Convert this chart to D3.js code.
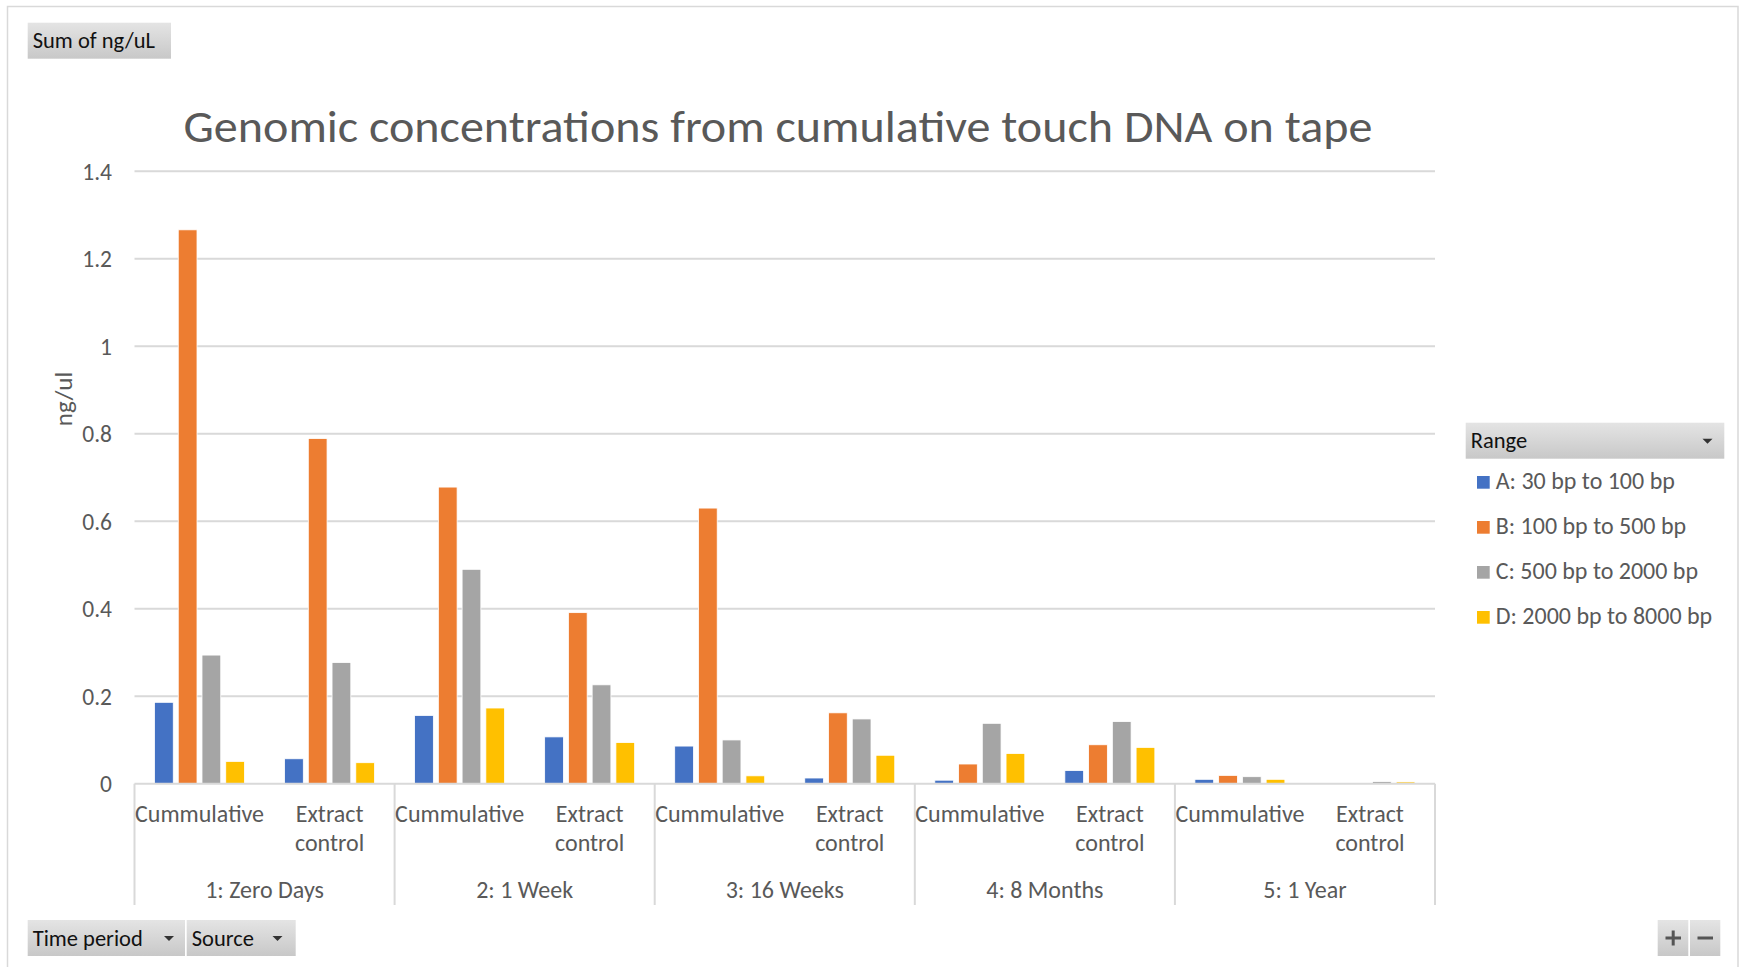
<!DOCTYPE html>
<html>
<head>
<meta charset="utf-8">
<script src="https://cdn.jsdelivr.net/npm/d3@7"></script>
<style>
  html, body { margin: 0; padding: 0; background: #fff; }
  svg { display: block; font-family: Carlito, Calibri, Lato, sans-serif; }
</style>
</head>
<body>
<svg id="chart" width="1743" height="967"></svg>
<script>
// ---------- data ----------
const periods = ["1: Zero Days", "2: 1 Week", "3: 16 Weeks", "4: 8 Months", "5: 1 Year"];
const sources = ["Cummulative", "Extract control"];
const rangeNames = ["A: 30 bp to 100 bp", "B: 100 bp to 500 bp", "C: 500 bp to 2000 bp", "D: 2000 bp to 8000 bp"];
const rangeColors = ["#4472C4", "#ED7D31", "#A5A5A5", "#FFC000"];
// values in order: period1-Cumm, period1-Extract, period2-Cumm, ...
const seriesA = [0.186, 0.057, 0.156, 0.107, 0.086, 0.013, 0.008, 0.030, 0.010, 0];
const seriesB = [1.266, 0.789, 0.678, 0.391, 0.630, 0.162, 0.045, 0.089, 0.019, 0];
const seriesC = [0.294, 0.277, 0.490, 0.226, 0.100, 0.148, 0.138, 0.142, 0.016, 0.005];
const seriesD = [0.051, 0.048, 0.173, 0.094, 0.018, 0.065, 0.069, 0.083, 0.010, 0.004];
const yTicks = [0, 0.2, 0.4, 0.6, 0.8, 1, 1.2, 1.4];
const titleText = "Genomic concentrations from cumulative touch DNA on tape";
const yTitle = "ng/ul";

const allSeries = [seriesA, seriesB, seriesC, seriesD];
const rows = [];
periods.forEach((p, pi) => sources.forEach((s, si) => {
  const idx = pi * sources.length + si;
  rows.push({ key: p + "|" + s, period: p, source: s, values: allSeries.map(a => a[idx]) });
}));

// ---------- layout ----------
const svg = d3.select("#chart");
const plot = { left: 134.5, right: 1435, top: 171.2, bottom: 783.7 };
const textGray = "#595959";
const gridGray = "#d9d9d9";

const defs = svg.append("defs");
const grad = defs.append("linearGradient").attr("id", "btn").attr("x1", 0).attr("y1", 0).attr("x2", 0).attr("y2", 1);
grad.append("stop").attr("offset", "0%").attr("stop-color", "#e4e4e4");
grad.append("stop").attr("offset", "100%").attr("stop-color", "#c8c8c8");

// outer border
svg.append("rect").attr("x", 7.5).attr("y", 6.5).attr("width", 1730.5).attr("height", 990)
  .attr("fill", "#fff").attr("stroke", gridGray).attr("stroke-width", 1.5);

const x0 = d3.scaleBand().domain(rows.map(r => r.key)).range([plot.left, plot.right]).padding(0);
const x1 = d3.scaleBand().domain(d3.range(rangeNames.length)).range([20, 110]).paddingInner(0.21).paddingOuter(0);
const y = d3.scaleLinear().domain([0, 1.4]).range([plot.bottom, plot.top]);

// gridlines
svg.append("g").selectAll("line").data(yTicks.filter(t => t > 0)).join("line")
  .attr("x1", plot.left).attr("x2", plot.right)
  .attr("y1", d => y(d)).attr("y2", d => y(d))
  .attr("stroke", gridGray).attr("stroke-width", 2);

// y axis via d3 axis (labels only)
const yAxis = svg.append("g").attr("transform", `translate(${plot.left - 22.5},0)`)
  .call(d3.axisLeft(y).tickValues(yTicks).tickSize(0).tickPadding(0).tickFormat(d3.format("")));
yAxis.select(".domain").remove();
yAxis.selectAll("text").attr("fill", textGray).attr("font-size", 23.5).attr("dy", "0.35em")
  .style("font-family", "Carlito, Calibri, Lato, sans-serif");

// bars
const groups = svg.append("g").selectAll("g").data(rows).join("g")
  .attr("transform", d => `translate(${x0(d.key)},0)`);
groups.selectAll("rect").data(d => d.values.map((v, i) => ({ v, i }))).join("rect")
  .attr("x", d => x1(d.i)).attr("width", x1.bandwidth())
  .attr("y", d => y(d.v)).attr("height", d => y(0) - y(d.v))
  .attr("fill", d => rangeColors[d.i])
  .attr("stroke", "#fff").attr("stroke-width", 0.8)
  .attr("display", d => d.v > 0 ? null : "none");

// category axis baseline
svg.append("line").attr("x1", plot.left).attr("x2", plot.right)
  .attr("y1", plot.bottom).attr("y2", plot.bottom)
  .attr("stroke", gridGray).attr("stroke-width", 2);

// group separators
const groupW = (plot.right - plot.left) / periods.length;
svg.append("g").selectAll("line").data(d3.range(periods.length + 1)).join("line")
  .attr("x1", d => plot.left + d * groupW).attr("x2", d => plot.left + d * groupW)
  .attr("y1", plot.bottom).attr("y2", 905)
  .attr("stroke", gridGray).attr("stroke-width", 2);

// source labels
const srcLabels = svg.append("g").selectAll("text").data(rows).join("text")
  .attr("x", d => x0(d.key) + x0.bandwidth() / 2)
  .attr("y", 821.5)
  .attr("text-anchor", "middle").attr("fill", textGray).attr("font-size", 24);
srcLabels.each(function(d) {
  const words = d.source === "Extract control" ? ["Extract", "control"] : [d.source];
  d3.select(this).selectAll("tspan").data(words).join("tspan")
    .attr("x", x0(d.key) + x0.bandwidth() / 2)
    .attr("dy", (w, i) => i === 0 ? 0 : 29.5)
    .text(w => w);
});

// period labels
svg.append("g").selectAll("text").data(periods).join("text")
  .attr("x", (d, i) => plot.left + (i + 0.5) * groupW)
  .attr("y", 897.5).attr("text-anchor", "middle")
  .attr("fill", textGray).attr("font-size", 24).text(d => d);

// title
svg.append("text").attr("x", 778).attr("y", 141.5).attr("text-anchor", "middle")
  .attr("fill", textGray).attr("font-size", 45)
  .attr("textLength", 1189).attr("lengthAdjust", "spacingAndGlyphs")
  .text(titleText);

// y title
svg.append("text").attr("transform", "translate(72,399) rotate(-90)")
  .attr("text-anchor", "middle").attr("fill", textGray).attr("font-size", 25).text(yTitle);

// buttons
function button(x, yy, w, h, label, tri) {
  const g = svg.append("g");
  g.append("rect").attr("x", x).attr("y", yy).attr("width", w).attr("height", h).attr("fill", "url(#btn)");
  if (label) g.append("text").attr("x", x + 5).attr("y", yy + h - 10.5).attr("font-size", 22.5)
    .attr("fill", "#111").text(label);
  if (tri) g.append("path").attr("d", `M${tri - 5},${yy + h / 2 - 2}L${tri + 5},${yy + h / 2 - 2}L${tri},${yy + h / 2 + 3}Z`)
    .attr("fill", "#333");
  return g;
}
button(27.7, 22.7, 143.3, 36, "Sum of ng/uL", null);
button(1465.7, 422.7, 258.6, 36, "Range", 1707.5);
button(27.7, 920, 157.3, 36, "Time period", 169);
button(186.7, 920, 109, 36, "Source", 277.5);
const plus = button(1657.7, 920, 30.6, 36, null, null);
plus.append("path").attr("d", "M1665.5,938H1681M1673.2,930.5V945.5").attr("stroke", "#555").attr("stroke-width", 3);
const minus = button(1690, 920, 30.3, 36, null, null);
minus.append("path").attr("d", "M1697.5,938H1713").attr("stroke", "#555").attr("stroke-width", 3);

// legend
const leg = svg.append("g").selectAll("g").data(rangeNames).join("g")
  .attr("transform", (d, i) => `translate(1477,${476 + i * 45})`);
leg.append("rect").attr("width", 12.7).attr("height", 12.7).attr("fill", (d, i) => rangeColors[i]);
leg.append("text").attr("x", 18.7).attr("y", 13.3).attr("font-size", 24).attr("fill", textGray).text(d => d);
</script>
</body>
</html>
